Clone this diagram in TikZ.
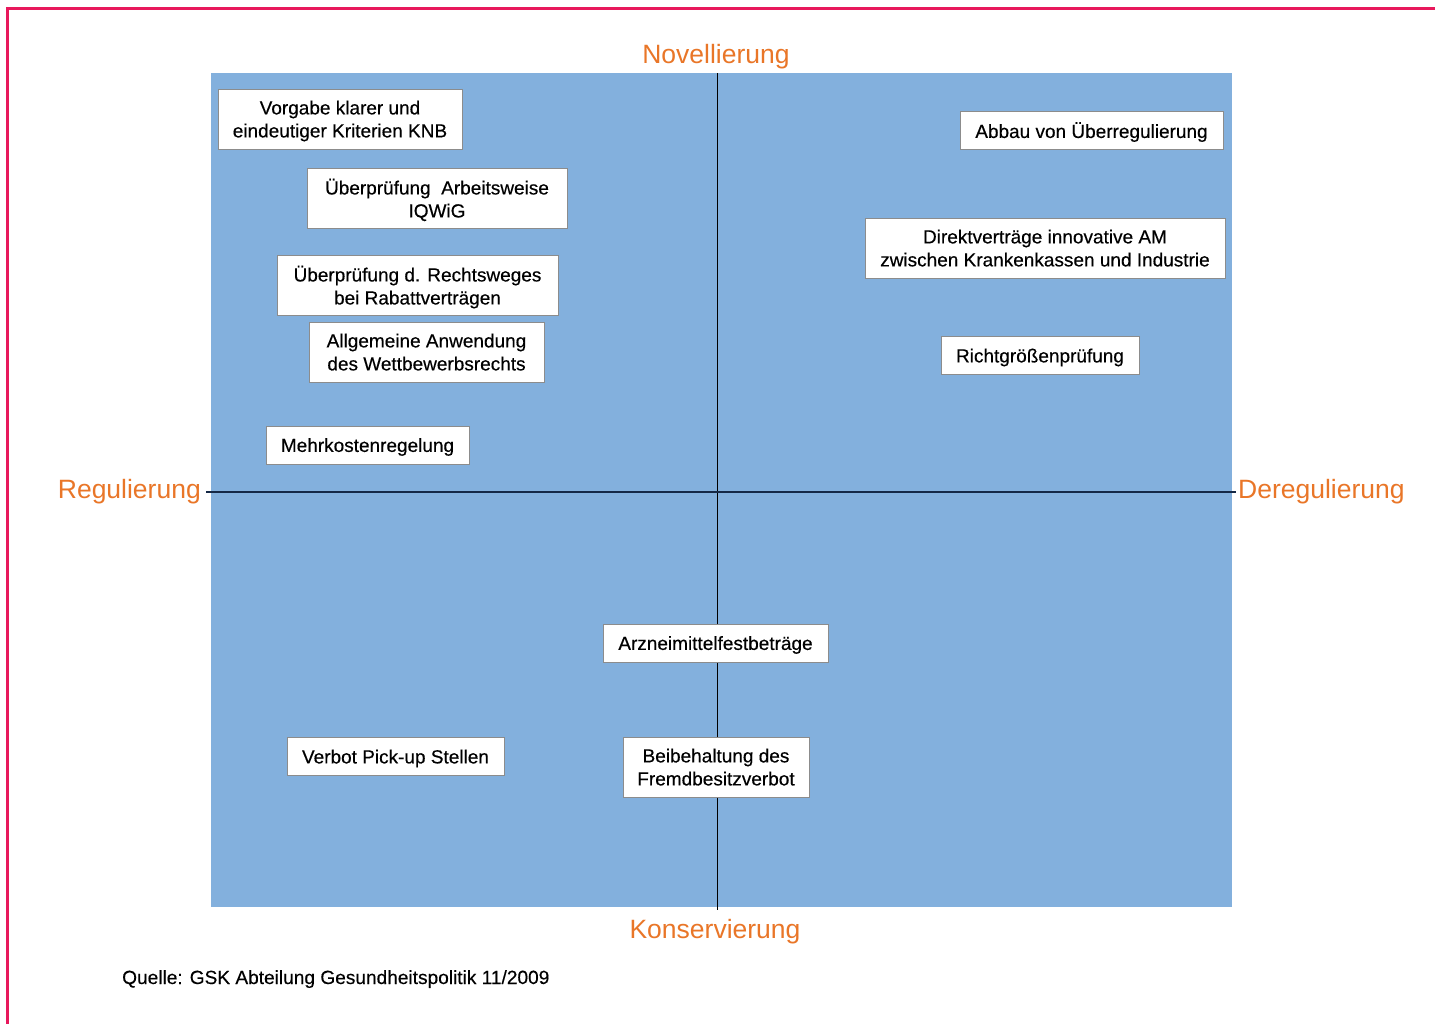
\documentclass[tikz,border=0pt]{standalone}
\usepackage{fontspec}
\setmainfont{Liberation Sans}
\newfontfamily\dickfont{Liberation Sans}[FakeBold=0.35]
\usetikzlibrary{positioning}
\definecolor{rahmenrot}{RGB}{232,24,92}
\definecolor{feldblau}{RGB}{131,176,221}
\definecolor{achsorange}{RGB}{233,118,40}
\definecolor{achsblau}{RGB}{20,40,70}
\tikzset{x=1pt, y=-1pt,
  massnahme/.style={draw=black!45, line width=0.8pt, fill=white, align=center, inner sep=0pt,
    text depth=0pt, font=\dickfont\fontsize{19}{23}\selectfont, minimum height=38pt},
  zweizeilig/.style={massnahme, minimum height=60pt},
  achstext/.style={text=achsorange, inner sep=0pt, font=\fontsize{26.5}{30}\selectfont}}

\begin{document}
\begin{tikzpicture}
    \useasboundingbox (0,0) rectangle (1435,1023);
    % rahmen und feld
    \draw[rahmenrot, line width=3pt] (7,1030) -- (7,8) -- (1440,8);
    \fill[feldblau] (211,73) rectangle (1232,907);
    % achsen
    \coordinate (oben) at (717,73);
    \coordinate (unten) at (717,910);
    \node[achstext, anchor=base] (novellierung) at (716,63) {Novellierung};
    \node[achstext, anchor=base] (konservierung) at (715,938) {Konservierung};
    \node[achstext, anchor=base east] (regulierung) at (201,498) {Regulierung};
    \node[achstext, anchor=base west] (deregulierung) at (1238,498) {Deregulierung};
    \coordinate (mitte) at (717,492);
    \draw[black, line width=1pt] (oben) -- (unten);
    \draw[achsblau, line width=2.2pt] (regulierung.east |- mitte) ++(5,0) -- (mitte);
    \draw[achsblau, line width=1.2pt] (mitte) -- ([xshift=-2pt]deregulierung.west |- mitte);
    % quadrant oben links
    \node[zweizeilig, minimum width=244pt] (vorgabe) at (340,119) {Vorgabe klarer und\\eindeutiger Kriterien KNB};
    \node[zweizeilig, minimum width=260pt] (iqwig) at (437,198) {Überprüfung\ \ Arbeitsweise\\IQWiG};
    \node[zweizeilig, minimum width=281pt] (rechtsweg) at (417.5,285) {Überprüfung d. Rechtsweges\\bei Rabattverträgen};
    \node[zweizeilig, minimum width=235pt] (wettbewerb) at (426.5,352) {Allgemeine Anwendung\\des Wettbewerbsrechts};
    \node[massnahme, minimum width=203pt] (mehrkosten) at (367.5,445) {Mehrkostenregelung};
    % quadrant oben rechts
    \node[massnahme, minimum width=263pt] (abbau) at (1091.5,130) {Abbau von Überregulierung};
    \node[zweizeilig, minimum width=360pt] (direktvertrag) at (1045,248) {Direktverträge innovative AM\\zwischen Krankenkassen und Industrie};
    \node[massnahme, minimum width=198pt] (richtgroesse) at (1040,355.5) {Richtgrößenprüfung};
    % untere haelfte
    \node[massnahme, minimum width=225pt] (festbetrag) at (715.5,643) {Arzneimittelfestbeträge};
    \node[massnahme, minimum width=217pt] (pickup) at (395.5,756.5) {Verbot Pick-up Stellen};
    \node[zweizeilig, minimum width=186pt] (fremdbesitz) at (716,767) {Beibehaltung des\\Fremdbesitzverbot};
    % quelle
    \node[anchor=base west, inner sep=0pt, font=\dickfont\fontsize{19.1}{22}\selectfont] (quelle) at (122,984) {Quelle: GSK Abteilung Gesundheitspolitik 11/2009};
\end{tikzpicture}
\end{document}
